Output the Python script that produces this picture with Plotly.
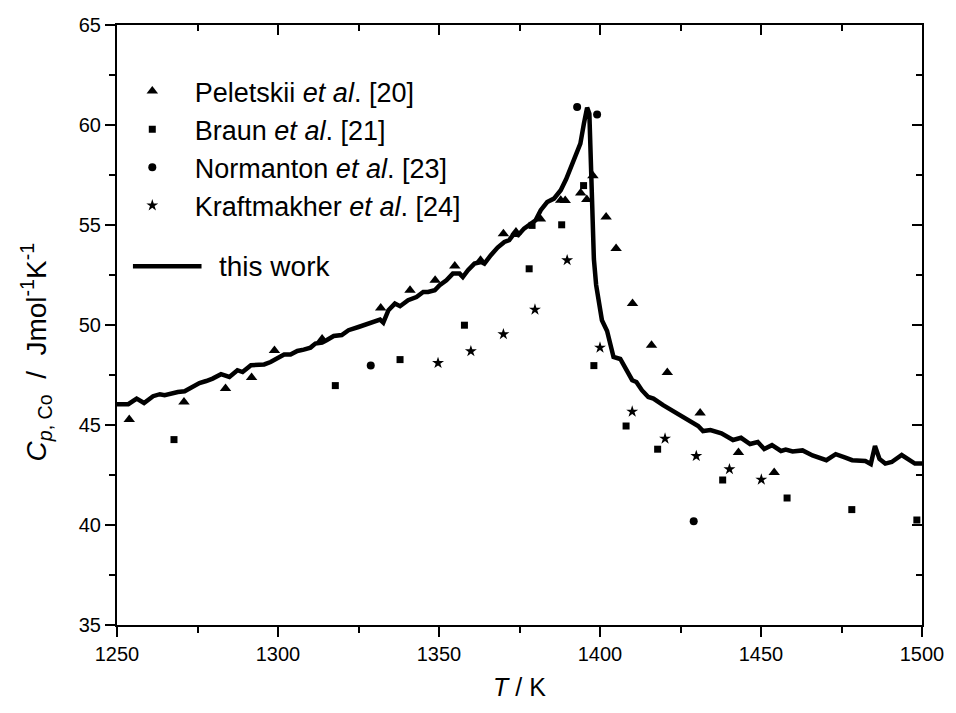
import plotly.graph_objects as go

# ---------------- data ----------------
T_work = [1250, 1253.5, 1256.1, 1258.4, 1261.2, 1263.3, 1264.8, 1266.9, 1268.9, 1271.0,
          1273.2, 1275.6, 1277.7, 1279.7, 1282.3, 1284.9, 1287.4, 1289.0, 1291.6, 1293.6,
          1295.7, 1297.7, 1299.8, 1301.9, 1303.9, 1306.0, 1308.0, 1310.1, 1311.6, 1313.7,
          1315.2, 1317.3, 1319.8, 1321.9, 1325.0, 1328.1, 1330.2, 1331.7, 1332.7, 1334.3,
          1336.3, 1337.9, 1340.4, 1343.0, 1345.1, 1346.6, 1348.7, 1350.2, 1352.3, 1354.3,
          1356.4, 1357.4, 1359.0, 1361.0, 1363.1, 1364.1, 1366.1, 1368.2, 1370.3, 1371.8,
          1373.3, 1374.6, 1376.4, 1378.0, 1380.0, 1381.6, 1383.6, 1385.7, 1387.8, 1389.5,
          1391.0, 1392.4, 1393.9, 1395.0, 1396.0, 1396.7, 1397.0, 1397.5, 1398.1, 1398.8,
          1399.6, 1400.6, 1402.2, 1404.2, 1406.3, 1410.0, 1411.3, 1413.0, 1415.0, 1416.6,
          1419.6, 1422.2, 1425.8, 1428.9, 1430.5, 1432.0, 1434.3, 1437.7, 1441.3, 1443.8,
          1446.6, 1449.0, 1451.0, 1453.4, 1456.2, 1457.7, 1459.8, 1462.9, 1466.0, 1470.3,
          1473.2, 1476.0, 1478.3, 1482.4, 1484.1, 1485.4, 1486.8, 1488.6, 1490.6, 1493.7,
          1495.2, 1497.8, 1500.0]
Cp_work = [46.04, 46.04, 46.32, 46.10, 46.44, 46.54, 46.49, 46.60, 46.65, 46.69,
           46.90, 47.10, 47.20, 47.32, 47.54, 47.40, 47.74, 47.65, 47.99, 48.03,
           48.03, 48.15, 48.32, 48.52, 48.52, 48.70, 48.77, 48.87, 49.07, 49.12,
           49.25, 49.45, 49.50, 49.74, 49.90, 50.07, 50.24, 50.27, 50.12, 50.74,
           51.07, 50.94, 51.24, 51.40, 51.65, 51.65, 51.74, 51.99, 52.24, 52.57,
           52.57, 52.40, 52.74, 53.07, 53.15, 53.07, 53.49, 53.87, 54.15, 54.24,
           54.57, 54.49, 54.82, 54.99, 55.24, 55.74, 56.15, 56.32, 56.74, 57.30,
           57.90, 58.40, 59.07, 60.07, 60.87, 60.57, 58.90, 55.60, 53.30, 52.00,
           51.10, 50.24, 49.70, 48.40, 48.30, 47.24, 47.15, 46.74, 46.40, 46.32,
           45.99, 45.74, 45.40, 45.15, 44.95, 44.70, 44.75, 44.58, 44.25, 44.36,
           44.05, 44.15, 43.80, 43.99, 43.70, 43.77, 43.68, 43.73, 43.48, 43.24,
           43.54, 43.38, 43.24, 43.20, 43.05, 43.95, 43.30, 43.07, 43.15, 43.50,
           43.32, 43.07, 43.07]

T_peletskii = [1253.8, 1270.8, 1283.7, 1291.8, 1298.9, 1313.7, 1331.9, 1341.0, 1348.8, 1354.9,
               1362.9, 1370.0, 1373.9, 1381.5, 1387.8, 1389.2, 1394.0, 1395.9, 1397.8, 1401.9,
               1405.0, 1410.1, 1416.0, 1420.9, 1431.1, 1443.0, 1454.1]
Cp_peletskii = [45.28, 46.15, 46.82, 47.37, 48.72, 49.30, 50.85, 51.74, 52.24, 52.95,
                53.24, 54.56, 54.65, 55.30, 56.24, 56.22, 56.60, 56.27, 57.46, 55.40,
                53.82, 51.07, 48.99, 47.62, 45.60, 43.62, 42.62]

T_braun = [1267.7, 1317.8, 1337.9, 1357.9, 1378.0, 1378.9, 1388.1, 1394.9, 1398.1, 1408.1,
           1417.9, 1438.1, 1458.1, 1478.2, 1498.4]
Cp_braun = [44.27, 46.97, 48.27, 49.99, 52.81, 54.98, 55.01, 56.97, 47.97, 44.95,
            43.79, 42.25, 41.35, 40.77, 40.25]

T_normanton = [1328.8, 1392.9, 1399.1, 1429.1]
Cp_normanton = [47.97, 60.90, 60.52, 40.19]

T_kraft = [1349.7, 1359.9, 1370.0, 1379.8, 1389.8, 1400.0, 1410.0, 1420.2, 1429.9, 1440.2, 1450.1]
Cp_kraft = [48.10, 48.69, 49.54, 50.77, 53.24, 48.87, 45.67, 44.32, 43.45, 42.79, 42.27]

x_range = [1250, 1500]
y_range = [35, 65]
x_ticks = [1250, 1300, 1350, 1400, 1450, 1500]
y_ticks = [35, 40, 45, 50, 55, 60, 65]

FONT = "Arial, Liberation Sans, sans-serif"
pad = "\u00a0\u00a0\u00a0"
NB = "\u00a0"

fig = go.Figure()

fig.add_trace(go.Scatter(x=T_work, y=Cp_work, mode="lines", name="this work",
                         line=dict(color="black", width=4.5), showlegend=False))

series = [
    (T_peletskii, Cp_peletskii, "triangle-up", 10, "Peletskii <i>et al</i>. [20]"),
    (T_braun, Cp_braun, "square", 7, "Braun <i>et al</i>. [21]"),
    (T_normanton, Cp_normanton, "circle", 8, "Normanton <i>et al</i>. [23]"),
    (T_kraft, Cp_kraft, "star", 9, "Kraftmakher <i>et al</i>. [24]"),
]
for xs, ys, sym, sz, nm in series:
    fig.add_trace(go.Scatter(x=xs, y=ys, mode="markers", name=pad + nm,
                             marker=dict(symbol=sym, size=sz, color="black",
                                         line=dict(width=0))))

# invisible helper so the mirrored (top/right) axes get drawn
fig.add_trace(go.Scatter(x=T_work, y=Cp_work, xaxis="x2", yaxis="y2", mode="lines",
                         line=dict(width=0, color="rgba(0,0,0,0)"), showlegend=False,
                         hoverinfo="skip"))

axis_common = dict(showline=True, linecolor="black", linewidth=2, showgrid=False,
                   zeroline=False, ticks="outside", ticklen=10, tickwidth=2, tickcolor="black",
                   tickfont=dict(family=FONT, size=20, color="black"))

ytitle = ("<i>C</i><sub><i>p</i>, Co</sub>" + NB * 2 + "/" + NB * 2 +
          "Jmol<sup>-1</sup>K<sup>-1</sup>")

fig.update_layout(
    width=956, height=713,
    margin=dict(l=117, r=29, t=25, b=88),
    paper_bgcolor="white", plot_bgcolor="white",
    font=dict(family=FONT, size=20, color="black"),
    xaxis=dict(range=x_range, tickvals=x_ticks, **axis_common,
               minor=dict(dtick=25, ticklen=6, tickwidth=2, ticks="outside", tickcolor="black"),
               title=dict(text="<i>T</i> / K", font=dict(family=FONT, size=25), standoff=14)),
    yaxis=dict(range=y_range, tickvals=y_ticks, **axis_common,
               minor=dict(dtick=2.5, ticklen=6, tickwidth=2, ticks="outside", tickcolor="black")),
    xaxis2=dict(range=x_range, overlaying="x", side="top", anchor="y2", showline=True,
                linecolor="black", linewidth=2, showgrid=False, zeroline=False,
                tickvals=x_ticks, ticks="inside", ticklen=10, tickwidth=2, tickcolor="black",
                showticklabels=False,
                minor=dict(dtick=25, ticklen=6, tickwidth=2, ticks="inside", tickcolor="black")),
    yaxis2=dict(range=y_range, overlaying="y", side="right", anchor="x2", showline=True,
                linecolor="black", linewidth=2, showgrid=False, zeroline=False,
                tickvals=y_ticks, ticks="inside", ticklen=10, tickwidth=2, tickcolor="black",
                showticklabels=False,
                minor=dict(dtick=2.5, ticklen=6, tickwidth=2, ticks="inside", tickcolor="black")),
    legend=dict(x=0.019, y=0.93, xanchor="left", yanchor="top", bgcolor="rgba(0,0,0,0)",
                font=dict(family=FONT, size=27, color="black"), traceorder="normal",
                itemsizing="trace"),
    shapes=[dict(type="line", xref="paper", yref="paper", x0=0.0198, x1=0.105, y0=0.598, y1=0.598,
                 line=dict(color="black", width=4.5))],
    annotations=[
        dict(text="this work", xref="paper", yref="paper", x=0.1247, y=0.598,
             xanchor="left", yanchor="middle", showarrow=False,
             font=dict(family=FONT, size=28, color="black")),
        dict(text=ytitle, xref="paper", yref="paper", x=-0.1, y=0.455, textangle=-90,
             xanchor="center", yanchor="middle", showarrow=False,
             font=dict(family=FONT, size=28, color="black")),
    ],
)

fig.write_html("out.html")
